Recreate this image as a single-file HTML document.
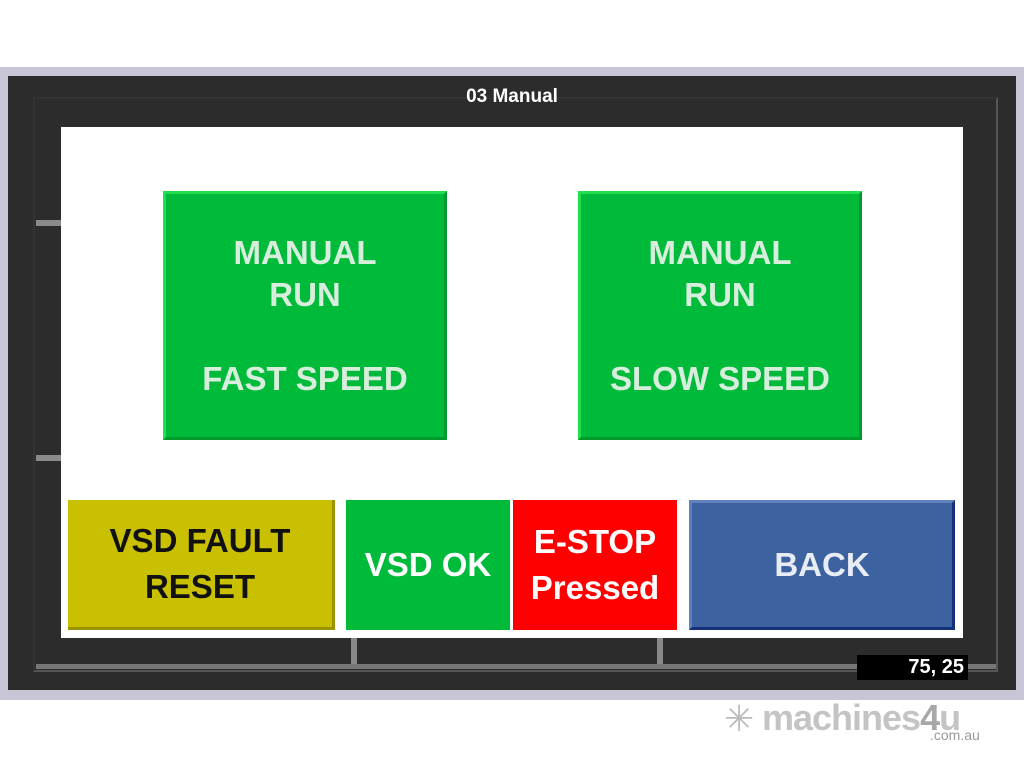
<!DOCTYPE html>
<html><head><style>
body{margin:0;width:1024px;height:768px;background:#fff;position:relative;overflow:hidden;font-family:"Liberation Sans",Arial,sans-serif}
div{position:absolute;box-sizing:border-box}
.b{display:flex;align-items:center;justify-content:center;text-align:center;font-weight:bold;color:#eef;font-size:33px;line-height:42px}
.g{background:#00bb3a;border-top:3px solid #20e050;border-left:3px solid #20e050;border-right:3px solid #009a2c;border-bottom:3px solid #009a2c;color:#d8eedd}
</style></head><body>
<div style="left:0;top:67px;width:1024px;height:633px;background:#c8c6d6"></div>
<div style="left:8px;top:76px;width:1008px;height:614px;background:#2c2c2c"></div>
<div style="left:33px;top:97px;width:965px;height:575px;border:2px solid #333;border-right-color:#555;border-bottom-color:#555"></div>
<div style="left:61px;top:127px;width:902px;height:511px;background:#fff"></div>
<div style="left:36px;top:220px;width:25px;height:6px;background:#8a8a8a"></div>
<div style="left:36px;top:455px;width:25px;height:6px;background:#8a8a8a"></div>
<div style="left:36px;top:664px;width:960px;height:5px;background:#777"></div>
<div style="left:351px;top:638px;width:6px;height:26px;background:#888"></div>
<div style="left:657px;top:638px;width:6px;height:26px;background:#888"></div>
<div style="left:0;top:86px;width:1024px;text-align:center;color:#fff;font-weight:bold;font-size:19px">03 Manual</div>
<div style="left:857px;top:655px;width:111px;height:25px;background:#000;color:#fff;font-weight:bold;font-size:20px;text-align:right;padding-right:4px;line-height:25px">75, 25</div>
<div class="b g" style="left:163px;top:191px;width:284px;height:249px">MANUAL<br>RUN<br><br>FAST SPEED</div>
<div class="b g" style="left:578px;top:191px;width:284px;height:249px">MANUAL<br>RUN<br><br>SLOW SPEED</div>
<div class="b" style="left:68px;top:500px;width:267px;height:130px;background:#c8c000;border-right:3px solid #9a9400;border-bottom:3px solid #9a9400;color:#111;line-height:46px">VSD FAULT<br>RESET</div>
<div class="b" style="left:346px;top:500px;width:164px;height:130px;background:#00bb3a;color:#fff">VSD OK</div>
<div class="b" style="left:513px;top:500px;width:164px;height:130px;background:#f00;color:#fff;line-height:46px">E-STOP<br>Pressed</div>
<div class="b" style="left:689px;top:500px;width:266px;height:130px;background:#3d62a0;border-top:3px solid #6080c0;border-left:3px solid #6080c0;border-right:3px solid #14307a;border-bottom:3px solid #14307a;color:#e8ecf4">BACK</div>
<div style="left:724px;top:698px;font-size:36px;color:#bbb;">✳</div>
<div style="left:762px;top:697px;font-size:36px;font-weight:bold;color:#c4c4c4;letter-spacing:-1px">machines<span style="color:#a8a8a8">4</span>u</div>
<div style="left:930px;top:727px;font-size:14px;color:#999">.com.au</div>
</body></html>
